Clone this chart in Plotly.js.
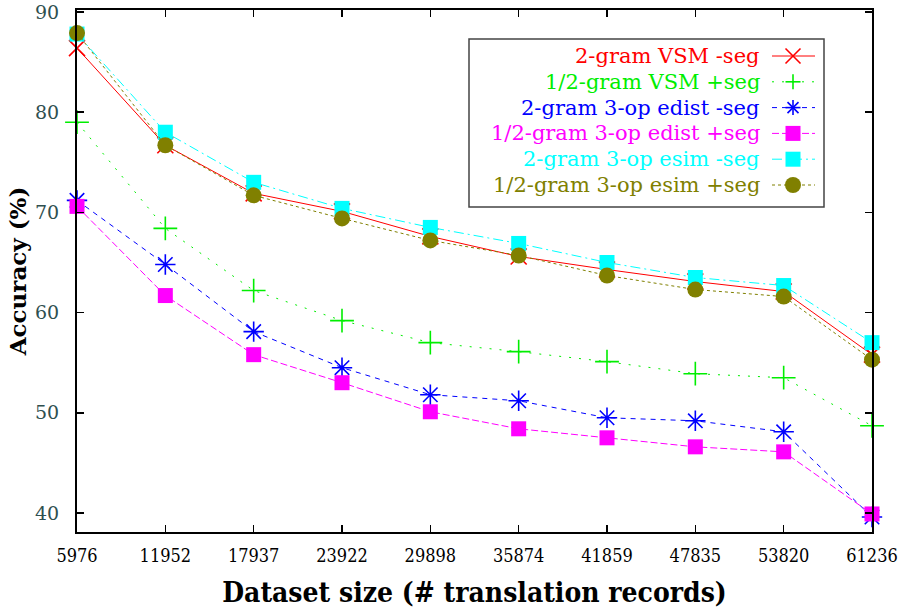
<!DOCTYPE html>
<html>
<head>
<meta charset="utf-8">
<script src="https://cdn.plot.ly/plotly-3.0.1.min.js"></script>
<style>html,body{margin:0;padding:0;background:#fff;}#chart{width:900px;height:610px;}</style>
</head>
<body>
<div id="chart"></div>
<script>
// ---- data ----
var sizes = ['5976','11952','17937','23922','29898','35874','41859','47835','53820','61236'];
var seriesNames = ['2-gram VSM -seg','1/2-gram VSM +seg','2-gram 3-op edist -seg','1/2-gram 3-op edist +seg','2-gram 3-op esim -seg','1/2-gram 3-op esim +seg'];
var vsm2    = [86.4, 76.7, 71.9, 70.1, 67.6, 65.6, 64.3, 63.1, 62.1, 55.8];
var vsm12   = [79.0, 68.4, 62.2, 59.2, 57.0, 56.1, 55.1, 53.9, 53.5, 48.7];
var edist2  = [71.2, 64.8, 58.1, 54.5, 51.8, 51.2, 49.5, 49.2, 48.1, 39.6];
var edist12 = [70.6, 61.7, 55.8, 53.0, 50.1, 48.4, 47.5, 46.6, 46.1, 39.9];
var esim2   = [87.8, 78.0, 73.0, 70.4, 68.5, 66.9, 65.0, 63.5, 62.7, 57.0];
var esim12  = [87.9, 76.7, 71.7, 69.4, 67.2, 65.7, 63.7, 62.3, 61.6, 55.3];
var yTicks  = [40, 50, 60, 70, 80, 90];

// ---- styles ----
var colors  = ['#ff0000','#00ee00','#0000ff','#ff00ff','#00ffff','#808000'];
var dashes  = ['solid','2px,8px','5px,5px','7px,3px','10px,4px,2px,4px','3px,3px'];
var symbols = ['x-thin-open','cross-thin-open','asterisk-open','square','square','circle'];
var msizes  = [16, 17, 17, 15, 15, 16];
var allVals = [vsm2, vsm12, edist2, edist12, esim2, esim12];

var W = 900, H = 610, L = 77, R = 28, T = 10, B = 78;
var PW = W - L - R, PH = H - T - B;
function px(x){ return (x - L) / PW; }
function py(y){ return (H - B - y) / PH; }

var traces = allVals.map(function(v, i){
  var open = symbols[i].indexOf('open') >= 0;
  return {
    type: 'scatter', mode: 'lines+markers', name: seriesNames[i],
    x: sizes, y: v, cliponaxis: false, showlegend: false,
    line: {color: colors[i], width: 1, dash: dashes[i]},
    marker: {symbol: symbols[i], size: msizes[i], color: colors[i],
             line: {color: colors[i], width: open ? 1.6 : 0}}
  };
});

// ---- custom legend (text left, sample right, as in the reference) ----
var shapes = [], annotations = [];
var boxX0 = 469, boxX1 = 824, boxY0 = 39, boxY1 = 207;
shapes.push({type:'rect', xref:'paper', yref:'paper', x0:px(boxX0), x1:px(boxX1), y0:py(boxY1), y1:py(boxY0),
             line:{color:'#444', width:1.5}, fillcolor:'rgba(255,255,255,0)', layer:'above'});
var rowY0 = 56, rowGap = 25.8, textRight = 762, smpX0 = 772, smpX1 = 815, smpC = 793;
seriesNames.forEach(function(name, i){
  var ry = rowY0 + i * rowGap;
  annotations.push({xref:'paper', yref:'paper', x:px(textRight), y:py(ry), xanchor:'right', yanchor:'middle',
    text:name, showarrow:false, font:{family:'DejaVu Serif, Liberation Serif, serif', size:21, color:colors[i]}});
  shapes.push({type:'line', xref:'paper', yref:'paper', x0:px(smpX0), x1:px(smpX1), y0:py(ry), y1:py(ry),
    line:{color:colors[i], width:1, dash:dashes[i]}});
  var s = 7.5, c = colors[i];
  function seg(x0,y0,x1,y1,w){ shapes.push({type:'line', xref:'paper', yref:'paper', x0:px(x0), x1:px(x1), y0:py(y0), y1:py(y1), line:{color:c, width:w||1.6}}); }
  if (symbols[i] === 'x-thin-open') { seg(smpC-s,ry-s,smpC+s,ry+s); seg(smpC-s,ry+s,smpC+s,ry-s); }
  else if (symbols[i] === 'cross-thin-open') { seg(smpC-s,ry,smpC+s,ry); seg(smpC,ry-s,smpC,ry+s); }
  else if (symbols[i] === 'asterisk-open') { seg(smpC-s,ry,smpC+s,ry); seg(smpC,ry-s,smpC,ry+s); seg(smpC-5.5,ry-5.5,smpC+5.5,ry+5.5); seg(smpC-5.5,ry+5.5,smpC+5.5,ry-5.5); }
  else if (symbols[i] === 'square') { shapes.push({type:'rect', xref:'paper', yref:'paper', x0:px(smpC-7.5), x1:px(smpC+7.5), y0:py(ry+7.5), y1:py(ry-7.5), line:{width:0}, fillcolor:c}); }
  else if (symbols[i] === 'circle') { shapes.push({type:'circle', xref:'paper', yref:'paper', x0:px(smpC-8), x1:px(smpC+8), y0:py(ry+8), y1:py(ry-8), line:{width:0}, fillcolor:c}); }
});

var layout = {
  width: W, height: H,
  margin: {l: L, r: R, t: T, b: B, pad: 0},
  paper_bgcolor: '#fff', plot_bgcolor: '#fff',
  showlegend: false,
  xaxis: {
    type: 'category', range: [0, sizes.length - 1],
    showgrid: false, zeroline: false,
    showline: true, linecolor: '#000', linewidth: 2, mirror: 'allticks',
    ticks: 'inside', ticklen: 7, tickwidth: 1.5, tickcolor: '#000',
    tickfont: {family: 'DejaVu Serif Condensed, Liberation Serif, serif', size: 18, color: '#000'},
    ticklabelstandoff: 6,
    title: {text: 'Dataset size (# translation records)', standoff: 18,
            font: {family: 'DejaVu Serif Condensed, DejaVu Serif, serif', size: 28, color: '#000', weight: 'bold'}}
  },
  yaxis: {
    range: [38.1, 90.2], tickvals: yTicks,
    showgrid: false, zeroline: false,
    showline: true, linecolor: '#000', linewidth: 2, mirror: 'allticks',
    ticks: 'inside', ticklen: 7, tickwidth: 1.5, tickcolor: '#000',
    tickfont: {family: 'DejaVu Serif, Liberation Serif, serif', size: 19, color: '#2f4f4f'},
    ticklabelstandoff: 12,
    title: {text: 'Accuracy (%)', standoff: 2,
            font: {family: 'DejaVu Serif, Liberation Serif, serif', size: 23, color: '#000', weight: 'bold'}}
  },
  shapes: shapes,
  annotations: annotations
};

Plotly.newPlot('chart', traces, layout, {displayModeBar: false, staticPlot: true});
</script>
</body>
</html>
